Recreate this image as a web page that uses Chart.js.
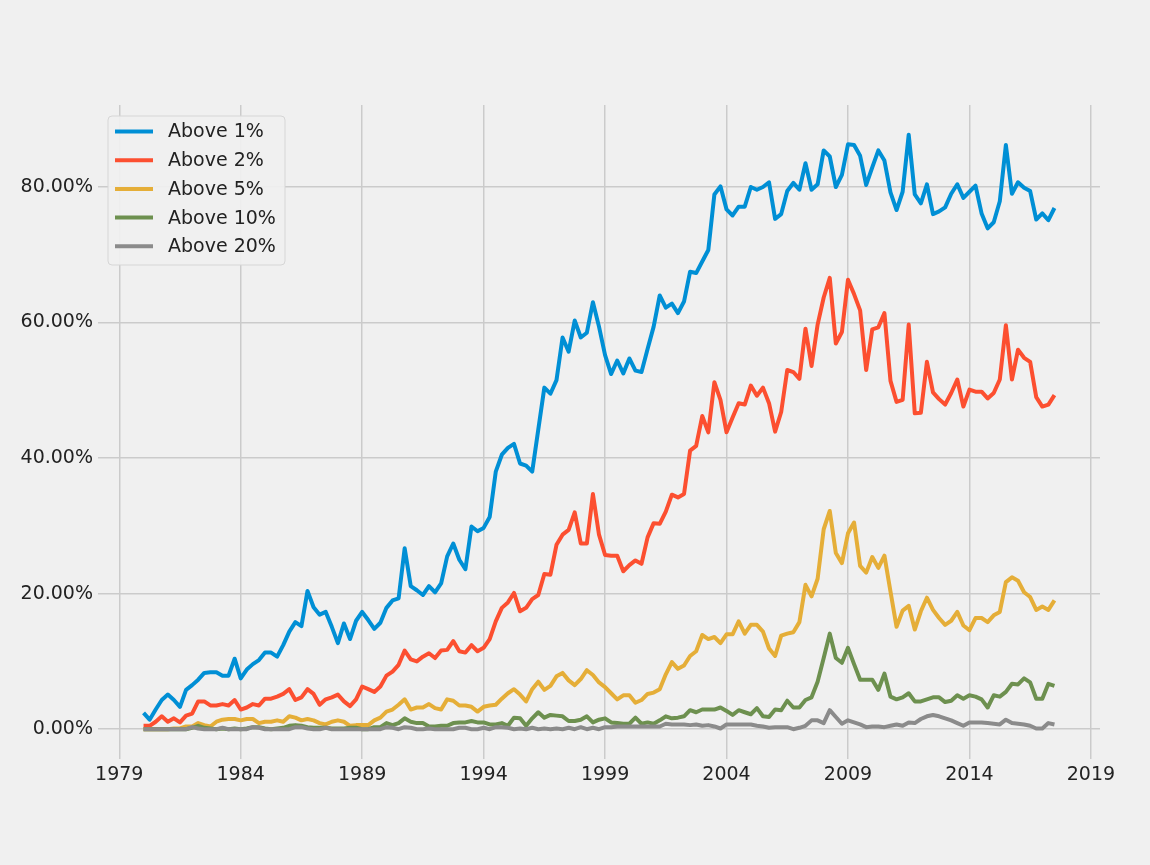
<!DOCTYPE html>
<html>
<head>
<meta charset="utf-8">
<script src="https://cdn.jsdelivr.net/npm/chart.js@4.4.1/dist/chart.umd.min.js"></script>
<style>
  html, body { margin: 0; padding: 0; background: #f0f0f0; }
  canvas { display: block; }
</style>
</head>
<body>
<canvas id="chart" width="1150" height="865"></canvas>
<script>
// quarterly share of values, first point is 1980 Q1
const firstYear = 1980;

const above1 = [
  2.4, 1.4, 2.9, 4.3, 5.1, 4.3, 3.3, 5.8, 6.5, 7.3, 8.3, 8.4, 8.4, 7.9, 7.9, 10.4, 7.5, 8.8, 9.6, 10.2,
  11.3, 11.3, 10.7, 12.4, 14.4, 15.8, 15.2, 20.4, 18.0, 16.9, 17.3, 15.1, 12.7, 15.6, 13.3, 16.0, 17.3, 16.1, 14.8, 15.7,
  17.9, 19.0, 19.3, 26.7, 21.1, 20.5, 19.8, 21.1, 20.2, 21.5, 25.5, 27.4, 25.0, 23.6, 29.9, 29.2, 29.7, 31.3, 38.0, 40.5,
  41.5, 42.1, 39.2, 38.9, 38.0, 44.2, 50.4, 49.5, 51.5, 57.8, 55.7, 60.3, 57.8, 58.5, 63.0, 59.4, 55.2, 52.4, 54.4, 52.5,
  54.7, 52.9, 52.7, 56.1, 59.4, 64.0, 62.2, 62.8, 61.4, 63.1, 67.5, 67.3, 69.0, 70.7, 78.9, 80.1, 76.7, 75.8, 77.1, 77.1,
  80.0, 79.6, 80.0, 80.7, 75.3, 76.0, 79.4, 80.6, 79.6, 83.5, 79.6, 80.4, 85.4, 84.5, 80.0, 81.8, 86.3, 86.2, 84.6, 80.3,
  82.9, 85.4, 83.9, 79.2, 76.6, 79.3, 87.7, 78.9, 77.6, 80.4, 76.0, 76.4, 77.0, 79.0, 80.4, 78.4, 79.3, 80.2, 76.1, 73.9,
  74.8, 77.9, 86.2, 79.0, 80.7, 79.9, 79.4, 75.2, 76.1, 75.1, 76.9
];
const above2 = [
  0.5, 0.5, 1.1, 1.9, 1.1, 1.6, 1.0, 2.0, 2.3, 4.1, 4.1, 3.5, 3.5, 3.7, 3.5, 4.3, 2.9, 3.2, 3.7, 3.5,
  4.5, 4.5, 4.8, 5.2, 5.9, 4.3, 4.7, 5.9, 5.2, 3.6, 4.4, 4.7, 5.1, 4.1, 3.4, 4.4, 6.3, 5.9, 5.5, 6.3,
  7.9, 8.5, 9.5, 11.6, 10.3, 10.0, 10.7, 11.2, 10.5, 11.6, 11.7, 13.0, 11.5, 11.3, 12.4, 11.5, 12.0, 13.3, 15.9, 17.9,
  18.7, 20.1, 17.4, 17.9, 19.2, 19.8, 22.9, 22.8, 27.2, 28.7, 29.4, 32.0, 27.4, 27.4, 34.7, 28.7, 25.7, 25.6, 25.6, 23.3,
  24.2, 24.9, 24.4, 28.3, 30.4, 30.3, 32.1, 34.6, 34.2, 34.7, 41.1, 41.8, 46.2, 43.8, 51.2, 48.6, 43.8, 46.0, 48.1, 47.9,
  50.7, 49.2, 50.4, 48.1, 43.9, 46.8, 53.0, 52.7, 51.7, 59.1, 53.6, 59.7, 63.7, 66.6, 56.9, 58.6, 66.3, 64.2, 61.8, 53.0,
  59.0, 59.3, 61.4, 51.4, 48.3, 48.6, 59.7, 46.6, 46.7, 54.2, 49.7, 48.7, 47.9, 49.6, 51.6, 47.6, 50.1, 49.8, 49.8, 48.8,
  49.6, 51.6, 59.6, 51.6, 56.0, 54.8, 54.2, 49.0, 47.6, 47.9, 49.3
];
const above5 = [
  0.0, 0.0, 0.0, 0.0, 0.0, 0.1, 0.1, 0.4, 0.4, 0.9, 0.6, 0.4, 1.1, 1.4, 1.5, 1.5, 1.3, 1.5, 1.5, 0.9,
  1.1, 1.1, 1.3, 1.1, 1.9, 1.7, 1.3, 1.5, 1.3, 0.9, 0.7, 1.1, 1.3, 1.1, 0.5, 0.6, 0.6, 0.6, 1.3, 1.7,
  2.6, 2.9, 3.6, 4.4, 2.9, 3.2, 3.2, 3.7, 3.1, 2.9, 4.4, 4.2, 3.5, 3.5, 3.3, 2.6, 3.3, 3.5, 3.6, 4.5,
  5.3, 5.9, 5.1, 4.1, 5.9, 7.0, 5.8, 6.4, 7.8, 8.3, 7.2, 6.5, 7.4, 8.7, 8.0, 6.9, 6.2, 5.3, 4.4, 5.0,
  5.0, 3.9, 4.3, 5.2, 5.4, 5.9, 8.1, 9.9, 8.9, 9.4, 10.8, 11.5, 13.9, 13.3, 13.6, 12.7, 14.0, 14.0, 15.9, 14.1,
  15.4, 15.4, 14.4, 11.9, 10.8, 13.8, 14.1, 14.3, 15.8, 21.3, 19.6, 22.2, 29.5, 32.2, 26.0, 24.5, 28.9, 30.5, 24.1, 23.1,
  25.4, 23.8, 25.6, 20.3, 15.1, 17.5, 18.2, 14.7, 17.4, 19.4, 17.6, 16.4, 15.4, 16.0, 17.3, 15.3, 14.6, 16.4, 16.4, 15.8,
  16.8, 17.3, 21.7, 22.4, 21.9, 20.2, 19.5, 17.6, 18.1, 17.6, 19.0
];
const above10 = [
  0.0, 0.0, 0.0, 0.0, 0.0, 0.0, 0.0, 0.0, 0.2, 0.5, 0.2, 0.1, 0.0, 0.1, 0.0, 0.1, 0.0, 0.1, 0.3, 0.3,
  0.1, 0.0, 0.1, 0.2, 0.5, 0.6, 0.5, 0.3, 0.2, 0.2, 0.2, 0.1, 0.1, 0.1, 0.2, 0.2, 0.0, 0.0, 0.3, 0.3,
  0.9, 0.6, 0.9, 1.6, 1.1, 0.9, 0.9, 0.4, 0.4, 0.5, 0.5, 0.9, 1.0, 1.0, 1.2, 1.0, 1.0, 0.7, 0.7, 0.9,
  0.5, 1.7, 1.6, 0.5, 1.6, 2.5, 1.7, 2.1, 2.0, 1.9, 1.2, 1.2, 1.4, 1.9, 1.0, 1.4, 1.6, 1.0, 0.9, 0.8,
  0.8, 1.7, 0.8, 1.0, 0.8, 1.3, 1.9, 1.6, 1.7, 1.9, 2.8, 2.5, 2.9, 2.9, 2.9, 3.2, 2.7, 2.1, 2.8, 2.5,
  2.2, 3.1, 1.9, 1.8, 2.9, 2.8, 4.2, 3.2, 3.2, 4.3, 4.7, 7.0, 10.5, 14.1, 10.5, 9.8, 12.0, 9.6, 7.3, 7.3,
  7.3, 5.8, 8.2, 4.8, 4.4, 4.7, 5.3, 4.1, 4.1, 4.4, 4.7, 4.7, 4.0, 4.2, 5.0, 4.5, 5.0, 4.8, 4.4, 3.2,
  5.0, 4.8, 5.5, 6.7, 6.6, 7.5, 6.9, 4.5, 4.5, 6.7, 6.4
];
const above20 = [
  0.0, 0.0, 0.0, 0.0, 0.0, 0.0, 0.0, 0.0, 0.3, 0.1, 0.0, 0.0, 0.0, 0.2, 0.0, 0.0, 0.0, 0.0, 0.3, 0.2,
  0.0, 0.0, 0.0, 0.0, 0.0, 0.3, 0.3, 0.1, 0.0, 0.0, 0.2, 0.0, 0.0, 0.0, 0.0, 0.0, 0.0, 0.0, 0.0, 0.0,
  0.3, 0.2, 0.0, 0.3, 0.2, 0.0, 0.0, 0.1, 0.0, 0.0, 0.0, 0.0, 0.2, 0.2, 0.0, 0.0, 0.2, 0.0, 0.3, 0.3,
  0.2, 0.0, 0.1, 0.0, 0.2, 0.0, 0.1, 0.0, 0.1, 0.0, 0.2, 0.0, 0.3, 0.0, 0.2, 0.0, 0.3, 0.3, 0.4, 0.4,
  0.4, 0.4, 0.4, 0.4, 0.4, 0.4, 0.8, 0.7, 0.7, 0.7, 0.6, 0.7, 0.5, 0.6, 0.4, 0.1, 0.7, 0.7, 0.7, 0.7,
  0.7, 0.5, 0.4, 0.2, 0.3, 0.3, 0.3, 0.0, 0.2, 0.5, 1.3, 1.3, 0.9, 2.8, 1.8, 0.8, 1.3, 1.0, 0.7, 0.3,
  0.4, 0.4, 0.3, 0.5, 0.7, 0.5, 1.0, 0.9, 1.5, 1.9, 2.1, 1.9, 1.6, 1.3, 0.9, 0.5, 1.0, 1.0, 1.0, 0.9,
  0.8, 0.7, 1.4, 0.9, 0.8, 0.7, 0.5, 0.1, 0.1, 0.9, 0.7
];

const seriesLabels = ['Above 1%', 'Above 2%', 'Above 5%', 'Above 10%', 'Above 20%'];
const seriesValues = [above1, above2, above5, above10, above20];
const seriesColors = ['#008fd5', '#fc4f30', '#e5ae38', '#6d904f', '#8b8b8b'];
const xTicks = [1979, 1984, 1989, 1994, 1999, 2004, 2009, 2014, 2019];
const yTicks = [0, 20, 40, 60, 80];

const quarters = above1.map((_, i) => firstYear + i / 4);

const FONT = 'DejaVu Sans';
Chart.defaults.font.family = FONT;
Chart.defaults.font.size = 19;
Chart.defaults.color = '#222';

const background = {
  id: 'background',
  beforeDraw(chart) {
    const ctx = chart.ctx;
    ctx.save();
    ctx.fillStyle = '#f0f0f0';
    ctx.fillRect(0, 0, chart.width, chart.height);
    ctx.restore();
  }
};

// matplotlib style legend box in the top left corner
const boxLegend = {
  id: 'boxLegend',
  afterDatasetsDraw(chart) {
    const ctx = chart.ctx;
    const x = 108, y = 116, w = 177, h = 149, r = 4;
    ctx.save();
    ctx.beginPath();
    ctx.roundRect(x, y, w, h, r);
    ctx.fillStyle = 'rgba(240,240,240,0.92)';
    ctx.fill();
    ctx.strokeStyle = '#d6d6d6';
    ctx.lineWidth = 1;
    ctx.stroke();
    ctx.font = '19px "' + FONT + '"';
    ctx.textBaseline = 'middle';
    ctx.textAlign = 'left';
    seriesLabels.forEach((label, i) => {
      const rowY = 131.5 + i * 28.7;
      ctx.beginPath();
      ctx.moveTo(115, rowY);
      ctx.lineTo(153, rowY);
      ctx.strokeStyle = seriesColors[i];
      ctx.lineWidth = 4;
      ctx.stroke();
      ctx.fillStyle = '#222';
      ctx.fillText(label, 168, rowY + 1);
    });
    ctx.restore();
  }
};

new Chart(document.getElementById('chart'), {
  type: 'line',
  data: {
    datasets: seriesLabels.map((label, i) => ({
      label,
      data: seriesValues[i].map((v, j) => ({ x: quarters[j], y: v })),
      borderColor: seriesColors[i],
      backgroundColor: seriesColors[i],
      borderWidth: 4,
      borderJoinStyle: 'round',
      pointRadius: 0,
      tension: 0,
      fill: false,
      order: seriesLabels.length - i
    }))
  },
  options: {
    responsive: false,
    animation: false,
    devicePixelRatio: 1,
    layout: { padding: { left: 0, top: 105, right: 50, bottom: 0 } },
    plugins: {
      legend: { display: false },
      tooltip: { enabled: false }
    },
    scales: {
      x: {
        type: 'linear',
        min: 1978.125,
        max: 2019.375,
        afterBuildTicks: scale => { scale.ticks = xTicks.map(v => ({ value: v })); },
        afterFit: scale => { scale.height = 106; },
        grid: { color: '#cbcbcb', lineWidth: 1.5, drawTicks: false },
        border: { display: false },
        ticks: { padding: 5, maxRotation: 0, callback: v => String(v) }
      },
      y: {
        min: -4.4,
        max: 92.1,
        afterBuildTicks: scale => { scale.ticks = yTicks.map(v => ({ value: v })); },
        afterFit: scale => { scale.width = 98; },
        grid: { color: '#cbcbcb', lineWidth: 1.5, drawTicks: false },
        border: { display: false },
        ticks: { padding: 5, callback: v => v.toFixed(2) + '%' }
      }
    }
  },
  plugins: [background, boxLegend]
});
</script>
</body>
</html>
